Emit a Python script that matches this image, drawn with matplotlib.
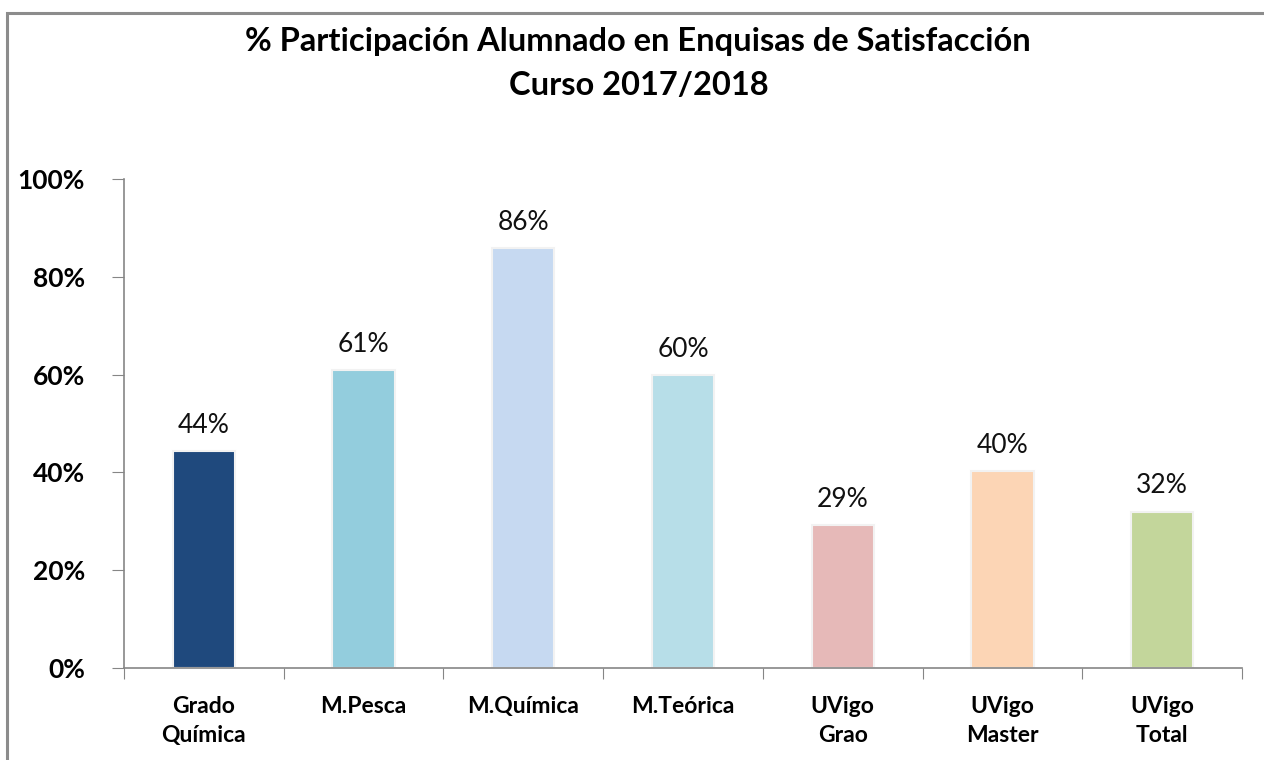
import matplotlib.pyplot as plt
import numpy as np
from matplotlib.patches import Rectangle

# Datos del gráfico
categorias = ['Grado\nQuímica', 'M.Pesca', 'M.Química', 'M.Teórica',
              'UVigo\nGrao', 'UVigo\nMaster', 'UVigo\nTotal']
participacion = [0.443, 0.61, 0.858, 0.60, 0.293, 0.403, 0.32]
etiquetas = ['44%', '61%', '86%', '60%', '29%', '40%', '32%']
colores = ['#1F497D', '#93CDDD', '#C6D9F1', '#B7DEE8',
           '#E6B9B8', '#FCD5B5', '#C3D69B']
ticks_y = [0, 0.2, 0.4, 0.6, 0.8, 1.0]

plt.rcParams['font.family'] = ['Lato', 'DejaVu Sans']

fig = plt.figure(figsize=(12.64, 7.6), dpi=100)
ax = fig.add_axes([0.098, 0.121, 0.8846, 0.6434])

# Marco gris del área del gráfico
fig.patches.append(Rectangle((7 / 1264, -0.05), 1.1, 1 - 13 / 760 + 0.05,
                             transform=fig.transFigure, fill=False,
                             edgecolor='#8C8C8C', linewidth=2.2))

x = np.arange(len(categorias))
ax.bar(x, participacion, width=0.39, color=colores,
       edgecolor='#F2F2F2', linewidth=1.5, zorder=2)

for xi, v, txt in zip(x, participacion, etiquetas):
    ax.text(xi, v + 0.037, txt, ha='center', va='baseline', fontsize=19, color='#111111')

ax.set_xlim(-0.5, len(categorias) - 0.5)
ax.set_ylim(0, 1.0)
ax.set_yticks(ticks_y)
ax.set_yticklabels([f'{int(t * 100)}%' for t in ticks_y], fontsize=19, fontweight='bold')

# Marcas del eje x entre categorías
ax.set_xticks(np.arange(-0.5, len(categorias), 1))
ax.set_xticklabels([])
ax.set_xticks(x, minor=True)
ax.set_xticklabels(categorias, minor=True, fontsize=16.5, fontweight='bold',
                   linespacing=1.5, va='top')
ax.tick_params(axis='x', which='minor', length=0, pad=20)
ax.tick_params(axis='x', which='major', length=8, color='#868686', direction='out')
ax.tick_params(axis='y', length=9, color='#868686', pad=19)

for s in ['top', 'right']:
    ax.spines[s].set_visible(False)
for s in ['left', 'bottom']:
    ax.spines[s].set_color('#868686')
    ax.spines[s].set_linewidth(1.2)

fig.text(0.505, 1 - 51 / 760, '% Participación Alumnado en Enquisas de Satisfacción',
         ha='center', va='baseline', fontsize=23.5, fontweight='bold')
fig.text(0.505, 1 - 95 / 760, 'Curso 2017/2018',
         ha='center', va='baseline', fontsize=23.5, fontweight='bold')

fig.savefig('out.png', dpi=100)
